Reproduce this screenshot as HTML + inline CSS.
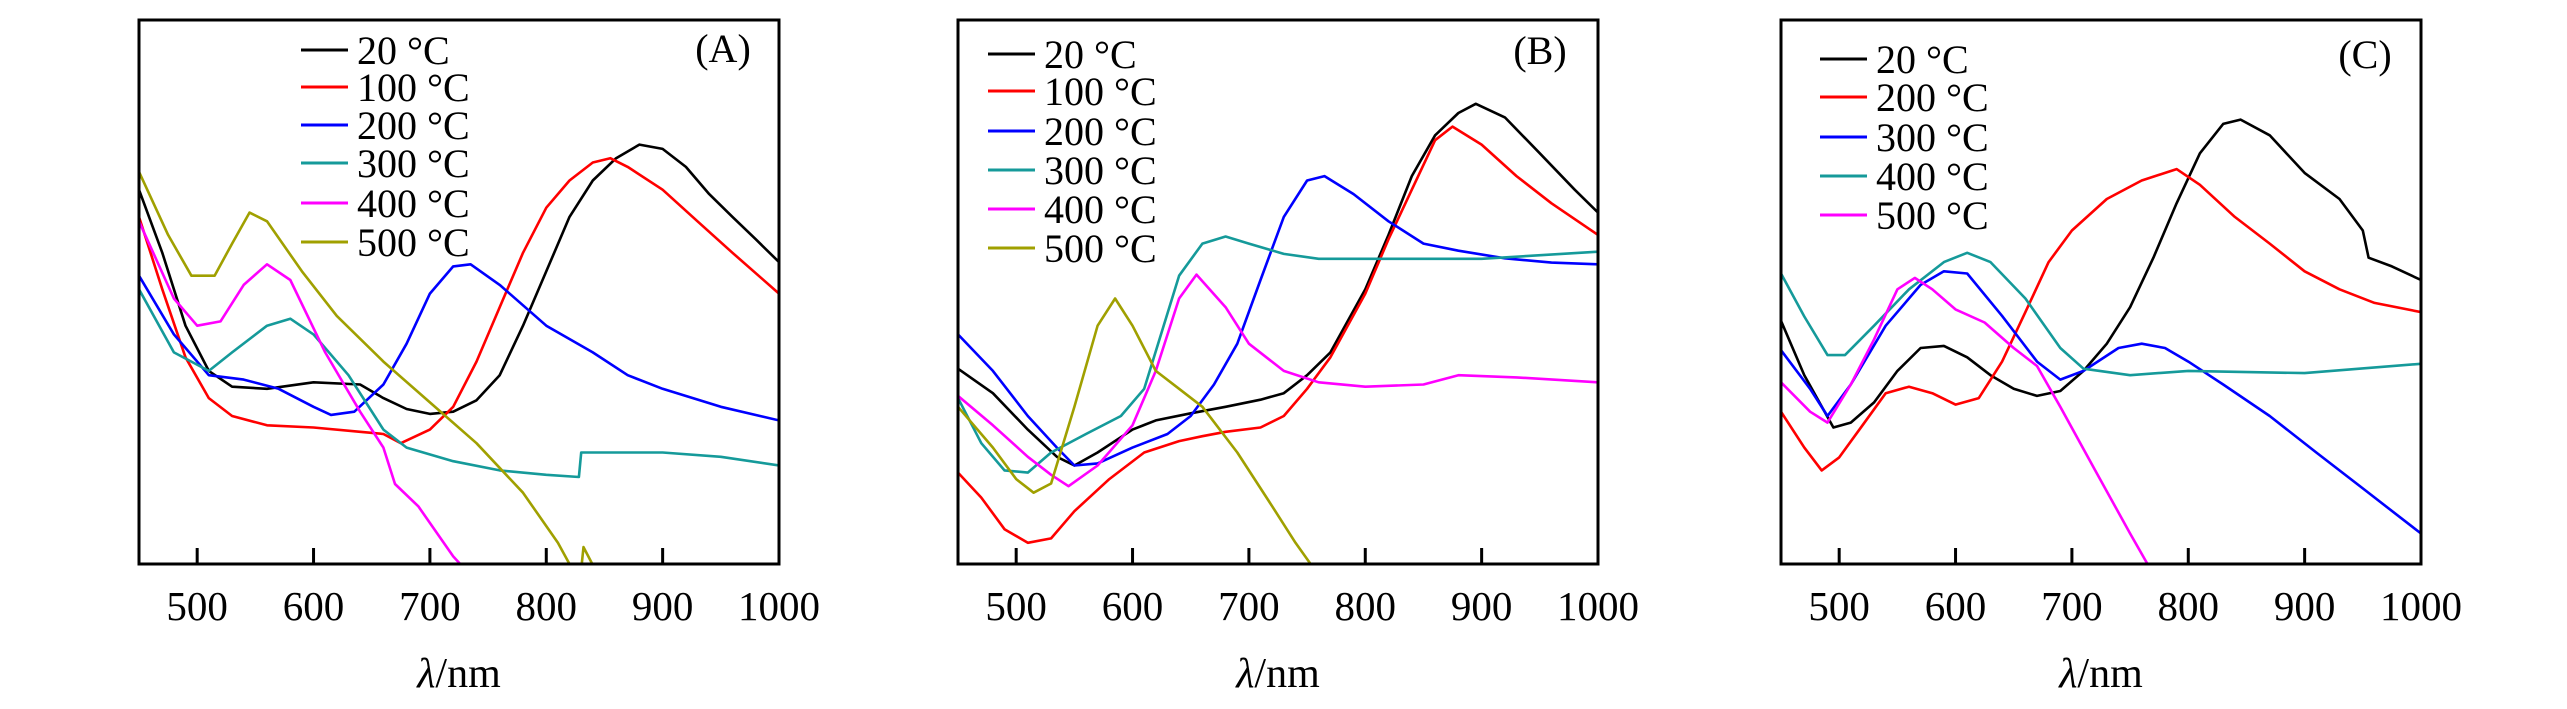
<!DOCTYPE html>
<html><head><meta charset="utf-8"><style>
html,body{margin:0;padding:0;background:#fff;}
svg{display:block;font-family:"Liberation Serif","Noto Serif CJK SC",serif;}
</style></head><body>
<svg id="fig" width="2567" height="709" viewBox="0 0 2567 709" xmlns="http://www.w3.org/2000/svg"></svg>
<script>
// ---- data (x = wavelength nm, y = relative absorbance 0-100) ----
const xTicks = [500, 600, 700, 800, 900, 1000];
const panelLabels = ["(A)", "(B)", "(C)"];
const colors = ["#000000", "#ff0000", "#0000ff", "#159a9a", "#ff00ff", "#a0a000"];
const colorsC = ["#000000", "#ff0000", "#0000ff", "#159a9a", "#ff00ff"];
const namesA = ["20 °C", "100 °C", "200 °C", "300 °C", "400 °C", "500 °C"];
const namesB = ["20 °C", "100 °C", "200 °C", "300 °C", "400 °C", "500 °C"];
const namesC = ["20 °C", "200 °C", "300 °C", "400 °C", "500 °C"];

const A20x = [450,470,490,510,530,560,600,640,660,680,700,720,740,760,780,800,820,840,860,880,900,920,940,960,980,1000];
const A20y = [68.8,57.2,43.8,35.5,32.6,32.2,33.4,33.0,30.5,28.5,27.6,28.0,30.1,34.7,43.8,53.8,63.8,70.5,74.6,77.1,76.3,73.0,68.0,63.8,59.7,55.5];
const A100x = [450,470,490,510,530,560,600,640,660,675,700,720,740,760,780,800,820,840,855,870,900,930,960,1000];
const A100y = [63.8,50.5,38.0,30.5,27.2,25.5,25.1,24.3,23.9,22.2,24.7,28.9,37.2,47.2,57.2,65.5,70.5,73.8,74.6,73.0,68.8,63.0,57.2,49.7];
const A200x = [450,480,510,540,570,600,615,635,660,680,700,720,735,760,800,840,870,900,950,1000];
const A200y = [53.0,42.2,34.7,33.9,32.2,28.9,27.4,28.0,33.0,40.5,49.7,54.7,55.1,51.3,43.8,38.9,34.7,32.2,28.9,26.4];
const A300x = [450,480,510,530,560,580,600,630,660,680,720,760,800,828,830,860,900,950,1000];
const A300y = [50.5,38.9,35.5,38.9,43.8,45.1,42.2,34.7,24.7,21.4,18.9,17.2,16.4,16.0,20.5,20.5,20.5,19.7,18.1];
const A400x = [450,480,500,520,540,560,580,610,640,660,670,690,720,726];
const A400y = [63.0,48.8,43.8,44.6,51.3,55.1,52.2,38.9,28.0,21.4,14.7,10.6,1.4,0];
const A500x = [450,475,495,515,530,545,560,590,620,660,700,740,780,810,820];
const A500y = [72.1,60.5,53.0,53.0,58.9,64.6,63.0,53.8,45.6,37.2,29.7,22.2,13.1,3.9,0];
const A500bx = [830,832,842];
const A500by = [-1,3.1,-1];

const B20x = [450,480,510,535,550,570,600,620,650,680,710,730,750,770,800,820,840,860,880,895,920,950,980,1000];
const B20y = [35.9,31.4,24.7,19.7,18.1,20.5,24.7,26.4,27.7,28.9,30.2,31.4,34.7,38.9,50.5,60.5,71.3,78.8,82.9,84.6,82.1,75.5,68.8,64.6];
const B100x = [450,470,490,510,530,550,580,610,640,660,680,710,730,750,770,800,820,840,860,875,900,930,960,1000];
const B100y = [16.8,12.2,6.4,3.9,4.7,9.7,15.6,20.5,22.6,23.5,24.3,25.1,27.2,32.2,38.0,49.7,59.7,68.8,77.9,80.4,77.1,71.3,66.3,60.5];
const B200x = [450,480,510,535,550,570,600,630,650,670,690,710,730,750,765,790,820,850,880,920,960,1000];
const B200y = [42.2,35.5,27.2,21.4,18.1,18.5,21.4,23.9,27.2,33.0,40.5,52.2,63.8,70.5,71.3,68.0,63.0,58.9,57.6,56.2,55.4,55.1];
const B300x = [450,470,490,510,530,560,590,610,640,660,680,700,730,760,800,900,1000];
const B300y = [30.5,22.2,17.2,16.8,20.5,23.9,27.2,32.2,53.0,58.9,60.2,58.9,57.0,56.1,56.1,56.1,57.4];
const B400x = [450,480,510,530,545,570,600,620,640,655,680,700,730,760,800,850,880,930,1000];
const B400y = [30.9,25.5,19.7,16.4,14.3,18.1,25.5,35.5,48.8,53.2,47.2,40.5,35.5,33.4,32.6,33.0,34.7,34.3,33.4];
const B500x = [450,480,500,515,530,550,570,585,600,620,640,660,690,720,740,753];
const B500y = [28.9,21.4,15.6,13.1,14.8,28.9,43.8,48.8,43.8,35.5,32.2,28.9,20.5,10.6,3.9,0];

const C20x = [450,470,495,510,530,550,570,590,610,630,650,670,690,710,730,750,770,790,810,830,845,870,900,930,950,955,975,1000];
const C20y = [44.7,34.7,25.1,26.0,29.7,35.5,39.7,40.1,38.0,34.7,32.2,30.9,31.8,35.5,40.5,47.2,56.3,66.3,75.5,80.9,81.7,78.8,71.9,67.1,61.3,56.3,54.7,52.2];
const C200x = [450,470,485,500,520,540,560,580,600,620,640,660,680,700,730,760,790,810,840,870,900,930,960,1000];
const C200y = [28.0,21.4,17.2,19.6,25.5,31.4,32.6,31.4,29.3,30.5,37.2,46.3,55.5,61.3,67.1,70.5,72.6,69.7,63.8,58.9,53.8,50.5,48.0,46.3];
const C300x = [450,475,490,510,540,570,590,610,640,670,690,710,740,760,780,800,830,870,910,950,1000];
const C300y = [39.3,32.2,27.2,33.0,43.8,51.3,53.8,53.4,45.6,37.2,33.9,35.5,39.7,40.5,39.7,37.2,33.0,27.2,20.5,13.9,5.6];
const C400x = [450,470,490,505,530,560,590,610,630,660,690,710,750,800,900,1000];
const C400y = [53.4,45.5,38.4,38.4,43.8,50.5,55.5,57.2,55.5,48.8,39.7,35.9,34.7,35.5,35.1,36.8];
const C500x = [450,475,490,510,530,550,565,580,600,625,650,670,690,720,750,765];
const C500y = [33.4,28.0,26.0,33.0,41.3,50.5,52.6,50.5,46.8,44.4,39.7,36.4,28.9,17.2,5.6,0];

const panels = [
  {id:"a", left:139, right:779, names:namesA, cols:colors, label:panelLabels[0],
   series:[[A20x,A20y],[A100x,A100y],[A200x,A200y],[A300x,A300y],[A400x,A400y],[A500x,A500y]],
   extra:[[A500bx,A500by,5]], legX:301, legY:[50,87,125,163,203,242], labX:723, labY:62},
  {id:"b", left:958, right:1598, names:namesB, cols:colors, label:panelLabels[1],
   series:[[B20x,B20y],[B100x,B100y],[B200x,B200y],[B300x,B300y],[B400x,B400y],[B500x,B500y]],
   extra:[], legX:988, legY:[54,91,131,170,209,248], labX:1540, labY:64},
  {id:"c", left:1781, right:2421, names:namesC, cols:colorsC, label:panelLabels[2],
   series:[[C20x,C20y],[C200x,C200y],[C300x,C300y],[C400x,C400y],[C500x,C500y]],
   extra:[], legX:1820, legY:[59,97,137,176,215], labX:2365, labY:68}
];
const TOP = 20, BOTTOM = 564, XMIN = 450, XMAX = 1000, YMIN = 0, YMAX = 100;
const NS = "http://www.w3.org/2000/svg";
const svg = document.getElementById("fig");
function mk(tag, attrs, parent){const e=document.createElementNS(NS,tag);for(const k in attrs)e.setAttribute(k,attrs[k]);(parent||svg).appendChild(e);return e;}

panels.forEach(p=>{
  const sx = v => p.left + (v-XMIN)/(XMAX-XMIN)*(p.right-p.left);
  const sy = v => BOTTOM - (v-YMIN)/(YMAX-YMIN)*(BOTTOM-TOP);
  const g = mk("g",{});
  
  
  const clip = mk("clipPath",{id:"clip-"+p.id},g);
  mk("rect",{x:p.left,y:TOP,width:p.right-p.left,height:BOTTOM-TOP},clip);
  const cg = mk("g",{"clip-path":"url(#clip-"+p.id+")"},g);
  const drawLine=(xs,ys,col,name)=>{
    const d = xs.map((x,i)=>(i?"L":"M")+sx(x).toFixed(1)+","+sy(ys[i]).toFixed(1)).join("");
    const path = mk("path",{d:d,fill:"none",stroke:col,"stroke-width":2.6,"stroke-linejoin":"round"},cg);
    
    
  };
  p.series.forEach((s,i)=>drawLine(s[0],s[1],p.cols[i],"curve-"+p.id+"-"+p.names[i].replace(/[^0-9]/g,"")+"c"));
  p.extra.forEach(s=>drawLine(s[0],s[1],p.cols[s[2]],"curve-"+p.id+"-extra"));
  const frame = mk("rect",{x:p.left,y:TOP,width:p.right-p.left,height:BOTTOM-TOP,fill:"none",stroke:"#000","stroke-width":3},g);
  
  
  xTicks.forEach(t=>{
    const tk = mk("line",{x1:sx(t),x2:sx(t),y1:BOTTOM,y2:BOTTOM-16,stroke:"#000","stroke-width":3},g);
    
    
    const tl = mk("text",{x:sx(t),y:620,"font-size":41,"text-anchor":"middle"},g);
    tl.textContent = t;
    
    
  });
  const xt = mk("text",{x:(p.left+p.right)/2,y:687,"font-size":42,"text-anchor":"middle"},g);
  xt.innerHTML = '<tspan font-style="italic">λ</tspan>/nm';
  
  
  const pl = mk("text",{x:p.labX,y:p.labY,"font-size":40,"text-anchor":"middle"},g);
  pl.textContent = p.label;
  
  
  p.names.forEach((n,i)=>{
    const lg = mk("g",{},g);
    
    
    mk("line",{x1:p.legX,x2:p.legX+47,y1:p.legY[i],y2:p.legY[i],stroke:p.cols[i],"stroke-width":3},lg);
    const lt = mk("text",{x:p.legX+56,y:p.legY[i]+14,"font-size":40},lg);
    lt.textContent = n;
  });
});
</script>
</body></html>
